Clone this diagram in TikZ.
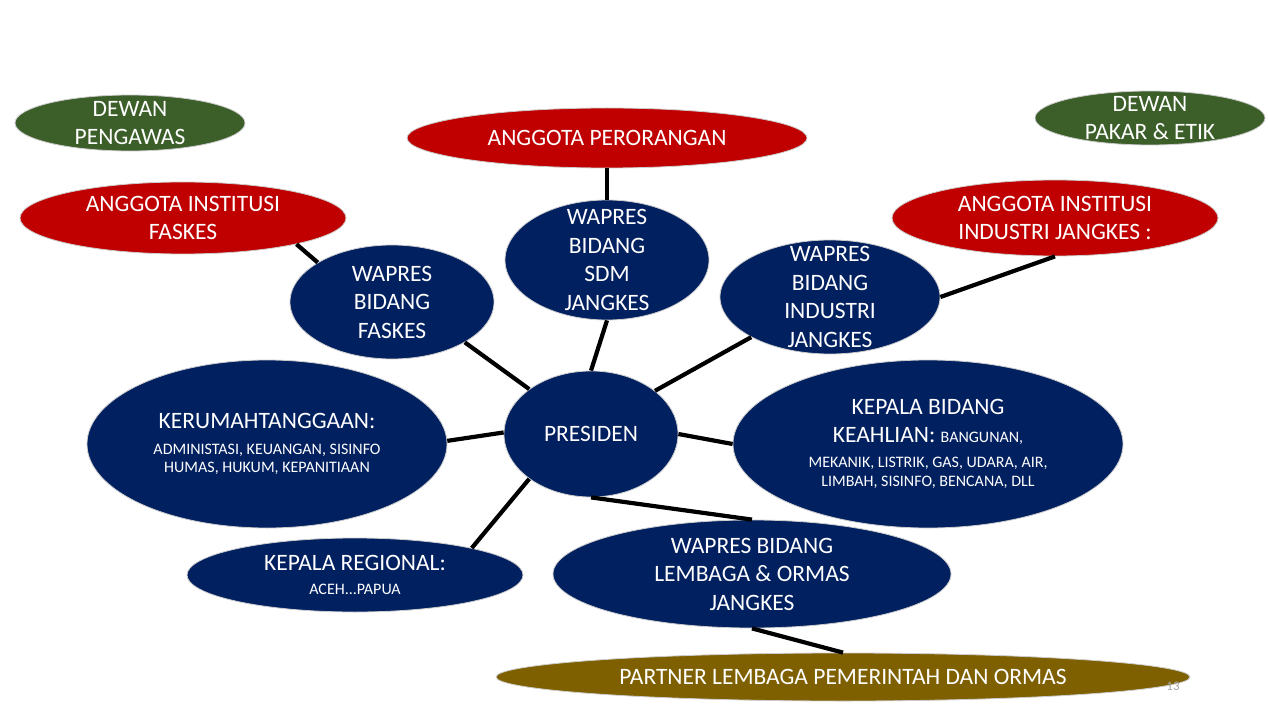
\documentclass[tikz,border=0pt]{standalone}
\usepackage{fontspec}
\setmainfont{Carlito}
\usetikzlibrary{shapes.geometric}

\definecolor{navy}{HTML}{002060}
\definecolor{merah}{HTML}{C00000}
\definecolor{hijau}{HTML}{3C5F2A}
\definecolor{emas}{HTML}{7F6000}

\tikzset{
  bubble/.style={ellipse, inner sep=0pt, draw=black!20, line width=0.8pt},
  isi/.style={text=white, align=center, inner sep=0pt, font=\fontsize{23.5}{28.5}\selectfont},
  garis/.style={line width=4.2pt, black},
}
\newcommand{\kecil}{\fontsize{16}{18}\selectfont}

\begin{document}
\begin{tikzpicture}[x=1pt, y=-1pt]
    \useasboundingbox[fill=white] (0,0) rectangle (1268,719);

    % Dewan
    \node[bubble, fill=hijau, minimum width=230, minimum height=56] (dp) at (130,123) {};
    \node[isi] (dp-t) at (dp.center) {DEWAN\\PENGAWAS};
    \node[bubble, fill=hijau, minimum width=230, minimum height=54] (dk) at (1150,118) {};
    \node[isi] (dk-t) at (dk.center) {DEWAN\\PAKAR \& ETIK};

    % Anggota
    \node[bubble, fill=merah, minimum width=400, minimum height=60] (ap) at (607,138) {};
    \node[isi] (ap-t) at (ap.center) {ANGGOTA PERORANGAN};
    \node[bubble, fill=merah, minimum width=326, minimum height=72] (af) at (183,218) {};
    \node[isi] (af-t) at (af.center) {ANGGOTA INSTITUSI\\FASKES};
    \node[bubble, fill=merah, minimum width=326, minimum height=76] (ai) at (1055,218) {};
    \node[isi] (ai-t) at (ai.center) {ANGGOTA INSTITUSI\\INDUSTRI JANGKES :};

    % Wapres
    \node[bubble, fill=navy, minimum width=204, minimum height=120] (sdm) at (607,260) {};
    \node[isi] (sdm-t) at (sdm.center) {WAPRES\\BIDANG\\SDM\\JANGKES};
    \node[bubble, fill=navy, minimum width=204, minimum height=114] (wf) at (392,302) {};
    \node[isi] (wf-t) at (wf.center) {WAPRES\\BIDANG\\FASKES};
    \node[bubble, fill=navy, minimum width=220, minimum height=114] (wi) at (830,297) {};
    \node[isi] (wi-t) at (wi.center) {WAPRES\\BIDANG\\INDUSTRI\\JANGKES};
    \node[bubble, fill=navy, minimum width=398, minimum height=108] (wl) at (752,574) {};
    \node[isi] (wl-t) at (wl.center) {WAPRES BIDANG\\LEMBAGA \& ORMAS\\JANGKES};

    % Presiden dan kepala
    \node[bubble, fill=navy, minimum width=174, minimum height=126] (pres) at (591,434) {};
    \node[isi] (pres-t) at (pres.center) {PRESIDEN};
    \node[bubble, fill=navy, minimum width=360, minimum height=168] (kr) at (267,444) {};
    \node[isi] (kr-t) at (kr.center) {KERUMAHTANGGAAN:\\[-3pt]{\kecil ADMINISTASI, KEUANGAN, SISINFO}\\[-10pt]{\kecil HUMAS, HUKUM, KEPANITIAAN}};
    \node[bubble, fill=navy, minimum width=390, minimum height=168] (kb) at (928,444) {};
    \node[isi] (kb-t) at (kb.center) {KEPALA BIDANG\\KEAHLIAN: {\kecil BANGUNAN,}\\[-4pt]{\kecil MEKANIK, LISTRIK, GAS, UDARA, AIR,}\\[-9pt]{\kecil LIMBAH, SISINFO, BENCANA, DLL}};
    \node[bubble, fill=navy, minimum width=336, minimum height=74] (reg) at (355,575) {};
    \node[isi] (reg-t) at (reg.center) {KEPALA REGIONAL:\\[-4pt]{\kecil ACEH...PAPUA}};

    % Partner
    \node[bubble, fill=emas, minimum width=694, minimum height=48] (par) at (843,677) {};
    \node[isi] (par-t) at (par.center) {PARTNER LEMBAGA PEMERINTAH DAN ORMAS};
    \node[text=black!35, font=\fontsize{13}{15}\selectfont] (hal) at (1173,686) {13};

    % Garis penghubung
    \draw[garis] (ap.south) -- (sdm.north);
    \draw[garis] (af.347) -- (wf.152);
    \draw[garis] (ai.south) -- (wi.east);
    \draw[garis] (sdm.south) -- (pres.north);
    \draw[garis] (wf.331) -- (pres.144);
    \draw[garis] (wi.207) -- (pres.34);
    \draw[garis] (kr.1) -- (pres.179);
    \draw[garis] (pres.east) -- (kb.west);
    \draw[garis] (pres.216) -- (reg.13);
    \draw[garis] (pres.south) -- (wl.north);
    \draw[garis] (wl.south) -- (par.north);
\end{tikzpicture}
\end{document}
